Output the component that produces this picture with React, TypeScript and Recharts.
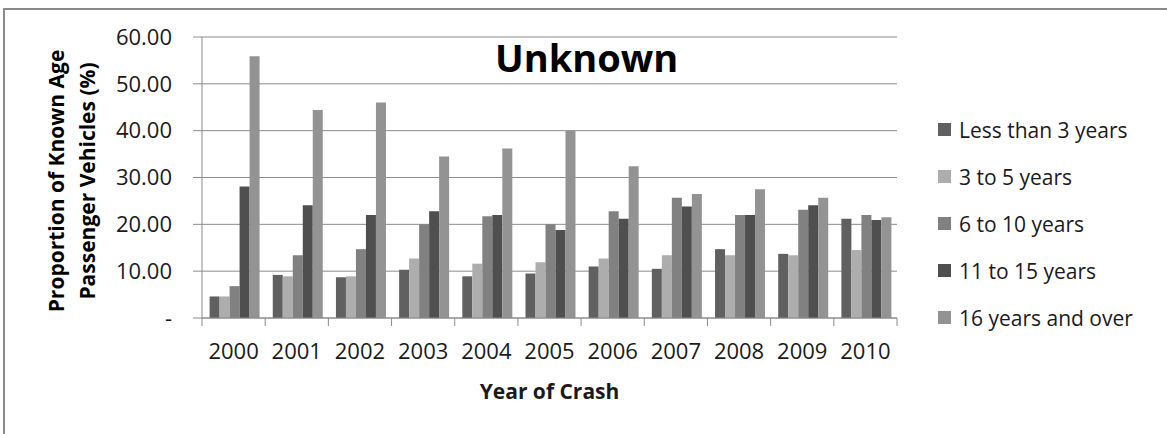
import { BarChart, Bar, XAxis, YAxis, CartesianGrid, Legend, Label } from 'recharts'

const YEARS = ['2000', '2001', '2002', '2003', '2004', '2005', '2006', '2007', '2008', '2009', '2010']

const LESS_THAN_3 = [4.6, 9.2, 8.7, 10.3, 8.9, 9.5, 11.0, 10.5, 14.7, 13.7, 21.2]
const YEARS_3_TO_5 = [4.6, 8.9, 8.9, 12.7, 11.6, 11.9, 12.7, 13.4, 13.4, 13.4, 14.5]
const YEARS_6_TO_10 = [6.8, 13.4, 14.7, 20.0, 21.7, 20.0, 22.8, 25.7, 22.0, 23.1, 22.0]
const YEARS_11_TO_15 = [28.1, 24.1, 22.0, 22.8, 22.0, 18.8, 21.2, 23.8, 22.0, 24.1, 20.9]
const YEARS_16_PLUS = [55.9, 44.4, 46.0, 34.5, 36.2, 40.0, 32.4, 26.5, 27.5, 25.7, 21.5]

const Y_TICKS = [0, 10, 20, 30, 40, 50, 60]

const SERIES = [
  { key: 'lt3', name: 'Less than 3 years', color: '#606060' },
  { key: 'y3to5', name: '3 to 5 years', color: '#adadad' },
  { key: 'y6to10', name: '6 to 10 years', color: '#818181' },
  { key: 'y11to15', name: '11 to 15 years', color: '#4f4f4f' },
  { key: 'y16', name: '16 years and over', color: '#939393' },
]

const data = YEARS.map((year, i) => ({
  year,
  lt3: LESS_THAN_3[i],
  y3to5: YEARS_3_TO_5[i],
  y6to10: YEARS_6_TO_10[i],
  y11to15: YEARS_11_TO_15[i],
  y16: YEARS_16_PLUS[i],
}))

const FONT = '"Open Sans", sans-serif'
const AXIS_GRAY = '#8c8c8c'

// Excel puts the x ticks between categories, so draw them by hand next to each label
const BAND = 695 / YEARS.length

function YearTick(props: any) {
  const { x, y, payload, index } = props
  const left = x - BAND / 2
  return (
    <g>
      <line x1={left} y1={y - 8} x2={left} y2={y} stroke={AXIS_GRAY} />
      {index === YEARS.length - 1 && (
        <line x1={x + BAND / 2} y1={y - 8} x2={x + BAND / 2} y2={y} stroke={AXIS_GRAY} />
      )}
      <text x={x} y={y + 33} textAnchor="middle" fontSize={22} fill="#1a1a1a" fontFamily={FONT}>
        {payload.value}
      </text>
    </g>
  )
}

// keep the legend in series order (recharts sorts it otherwise)
function LegendBox() {
  return (
    <div style={{ fontFamily: FONT, fontSize: 21, color: '#1a1a1a' }}>
      {SERIES.map((s) => (
        <div key={s.key} style={{ height: 47, display: 'flex', alignItems: 'center' }}>
          <span style={{ width: 13, height: 13, background: s.color, marginRight: 8, display: 'inline-block' }} />
          <span>{s.name}</span>
        </div>
      ))}
    </div>
  )
}

export default function App() {
  return (
    <div style={{ position: 'absolute', left: 0, top: 0, width: 1167, height: 434, background: '#fff', overflow: 'hidden' }}>
      <div
        style={{
          position: 'absolute',
          left: 3,
          top: 8,
          width: 1300,
          height: 600,
          borderLeft: '2px solid #8a8a8a',
          borderTop: '2px solid #8a8a8a',
        }}
      />
      <div
        style={{
          position: 'absolute',
          left: 495,
          top: 31,
          width: 183,
          textAlign: 'center',
          fontFamily: FONT,
          fontWeight: 700,
          fontSize: 38,
          color: '#000',
          lineHeight: '52px',
        }}
      >
        Unknown
      </div>
      <BarChart
        width={1167}
        height={434}
        data={data}
        margin={{ top: 37, right: 270, bottom: 0, left: 0 }}
        barCategoryGap="12%"
        barGap={0}
        style={{ position: 'absolute', left: 0, top: 0 }}
      >
        <CartesianGrid vertical={false} stroke={AXIS_GRAY} />
        <XAxis
          dataKey="year"
          height={116}
          axisLine={{ stroke: AXIS_GRAY }}
          tickLine={false}
          tick={<YearTick />}
          interval={0}
        >
          <Label
            value="Year of Crash"
            position="insideTop"
            offset={66}
            style={{ fontFamily: FONT, fontSize: 21, fontWeight: 700, fill: '#1a1a1a' }}
          />
        </XAxis>
        <YAxis
          width={202}
          domain={[0, 60]}
          ticks={Y_TICKS}
          interval={0}
          axisLine={{ stroke: AXIS_GRAY }}
          tickLine={{ stroke: AXIS_GRAY }}
          tickSize={9}
          tickFormatter={(v: number) => (v === 0 ? '-' : v.toFixed(2))}
          tick={{ fontFamily: FONT, fontSize: 22, fill: '#1a1a1a', dx: -19 }}
        />
        <Legend
          layout="vertical"
          align="center"
          verticalAlign="middle"
          content={<LegendBox />}
          wrapperStyle={{ left: 938, top: 106, width: 229 }}
        />
        {SERIES.map((s) => (
          <Bar key={s.key} dataKey={s.key} name={s.name} fill={s.color} isAnimationActive={false} />
        ))}
      </BarChart>
      <svg width={120} height={434} style={{ position: 'absolute', left: 0, top: 0 }}>
        <text
          transform="translate(71,181) rotate(-90)"
          textAnchor="middle"
          fontFamily={FONT}
          fontSize={21}
          fontWeight={700}
          fill="#000"
        >
          <tspan x={0} dy={-7}>Proportion  of Known Age</tspan>
          <tspan x={0} dy={31}>Passenger Vehicles (%)</tspan>
        </text>
      </svg>
    </div>
  )
}
